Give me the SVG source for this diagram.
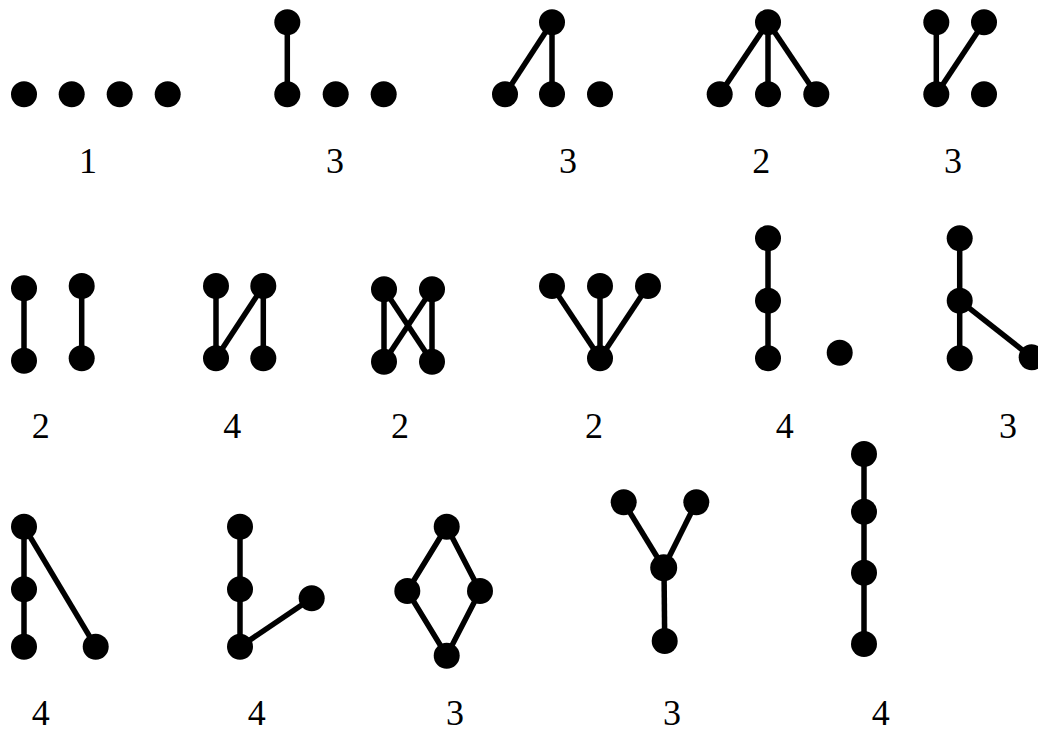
<svg xmlns="http://www.w3.org/2000/svg" width="1038" height="729" viewBox="0 0 1038 729">
<style>
.e{stroke:#000;stroke-width:5.5;fill:none}
.n{fill:#000}
.l{font-family:"Liberation Serif","Times New Roman",serif;font-size:36px;fill:#000;text-anchor:middle}
</style>
<rect width="1038" height="729" fill="#fff"/>
<g id="connectors">
<!-- g2 -->
<line class="e" x1="287.3" y1="22.3" x2="287.3" y2="94.3"/>
<!-- g3 -->
<line class="e" x1="552" y1="22.3" x2="505" y2="94.3"/>
<line class="e" x1="552" y1="22.3" x2="552" y2="94.3"/>
<!-- g4 -->
<line class="e" x1="768" y1="22.3" x2="719.7" y2="94.3"/>
<line class="e" x1="768" y1="22.3" x2="768" y2="94.3"/>
<line class="e" x1="768" y1="22.3" x2="816.3" y2="94.3"/>
<!-- g5 -->
<line class="e" x1="936.3" y1="22.3" x2="936.3" y2="94.3"/>
<line class="e" x1="984" y1="22.3" x2="936.3" y2="94.3"/>
<!-- g6 -->
<line class="e" x1="24" y1="288.3" x2="24" y2="360.7"/>
<line class="e" x1="81.7" y1="286" x2="81.7" y2="358.3"/>
<!-- g7 -->
<line class="e" x1="216" y1="286" x2="216" y2="358.3"/>
<line class="e" x1="263.3" y1="286" x2="216" y2="358.3"/>
<line class="e" x1="263.3" y1="286" x2="263.3" y2="358.3"/>
<!-- g8 -->
<line class="e" x1="384" y1="289.3" x2="384" y2="361.7"/>
<line class="e" x1="384" y1="289.3" x2="432" y2="361.7"/>
<line class="e" x1="432" y1="289.3" x2="384" y2="361.7"/>
<line class="e" x1="432" y1="289.3" x2="432" y2="361.7"/>
<!-- g9 -->
<line class="e" x1="552" y1="286" x2="600" y2="358.3"/>
<line class="e" x1="600" y1="286" x2="600" y2="358.3"/>
<line class="e" x1="648" y1="286" x2="600" y2="358.3"/>
<!-- g10 -->
<line class="e" x1="768" y1="238.3" x2="768" y2="358.3"/>
<!-- g11 -->
<line class="e" x1="959.7" y1="238.3" x2="959.7" y2="358.3"/>
<line class="e" x1="959.7" y1="300.7" x2="1031.7" y2="357.3"/>
<!-- g12 -->
<line class="e" x1="24" y1="526.7" x2="24" y2="646.7"/>
<line class="e" x1="24" y1="526.7" x2="95.7" y2="646.7"/>
<!-- g13 -->
<line class="e" x1="240" y1="526.7" x2="240" y2="646.7"/>
<line class="e" x1="240" y1="646.7" x2="311.7" y2="598.3"/>
<!-- g14 -->
<polygon class="e" points="446.7,526.7 480,591 446.7,655.7 407.3,591"/>
<!-- g15 -->
<line class="e" x1="623.7" y1="502.3" x2="663.7" y2="567.7"/>
<line class="e" x1="696.3" y1="502.3" x2="663.7" y2="567.7"/>
<line class="e" x1="664" y1="567.7" x2="664.7" y2="641"/>
<!-- g16 -->
<line class="e" x1="864" y1="454" x2="864" y2="644"/>
</g>
<g id="g1"><circle class="n" cx="24" cy="94.3" r="13"/><circle class="n" cx="71.7" cy="94.3" r="13"/><circle class="n" cx="119.7" cy="94.3" r="13"/><circle class="n" cx="167.7" cy="94.3" r="13"/><text class="l" x="88" y="173">1</text></g>
<g id="g2"><circle class="n" cx="287.3" cy="22.3" r="13"/><circle class="n" cx="287.3" cy="94.3" r="13"/><circle class="n" cx="335.7" cy="94.3" r="13"/><circle class="n" cx="383.7" cy="94.3" r="13"/><text class="l" x="335" y="173">3</text></g>
<g id="g3"><circle class="n" cx="552" cy="22.3" r="13"/><circle class="n" cx="505" cy="94.3" r="13"/><circle class="n" cx="552" cy="94.3" r="13"/><circle class="n" cx="600" cy="94.3" r="13"/><text class="l" x="568" y="173">3</text></g>
<g id="g4"><circle class="n" cx="768" cy="22.3" r="13"/><circle class="n" cx="719.7" cy="94.3" r="13"/><circle class="n" cx="768" cy="94.3" r="13"/><circle class="n" cx="816.3" cy="94.3" r="13"/><text class="l" x="761.3" y="173">2</text></g>
<g id="g5"><circle class="n" cx="936.3" cy="22.3" r="13"/><circle class="n" cx="984" cy="22.3" r="13"/><circle class="n" cx="936.3" cy="94.3" r="13"/><circle class="n" cx="984" cy="94.3" r="13"/><text class="l" x="953" y="173">3</text></g>
<g id="g6"><circle class="n" cx="24" cy="288.3" r="13"/><circle class="n" cx="24" cy="360.7" r="13"/><circle class="n" cx="81.7" cy="286" r="13"/><circle class="n" cx="81.7" cy="358.3" r="13"/><text class="l" x="40.7" y="438.3">2</text></g>
<g id="g7"><circle class="n" cx="216" cy="286" r="13"/><circle class="n" cx="263.3" cy="286" r="13"/><circle class="n" cx="216" cy="358.3" r="13"/><circle class="n" cx="263.3" cy="358.3" r="13"/><text class="l" x="232.3" y="438.3">4</text></g>
<g id="g8"><circle class="n" cx="384" cy="289.3" r="13"/><circle class="n" cx="432" cy="289.3" r="13"/><circle class="n" cx="384" cy="361.7" r="13"/><circle class="n" cx="432" cy="361.7" r="13"/><text class="l" x="400" y="438.3">2</text></g>
<g id="g9"><circle class="n" cx="552" cy="286" r="13"/><circle class="n" cx="600" cy="286" r="13"/><circle class="n" cx="648" cy="286" r="13"/><circle class="n" cx="600" cy="358.3" r="13"/><text class="l" x="594" y="438.3">2</text></g>
<g id="g10"><circle class="n" cx="768" cy="238.3" r="13"/><circle class="n" cx="768" cy="300.7" r="13"/><circle class="n" cx="768" cy="358.3" r="13"/><circle class="n" cx="839.7" cy="352.7" r="13"/><text class="l" x="784.7" y="438.3">4</text></g>
<g id="g11"><circle class="n" cx="959.7" cy="238.3" r="13"/><circle class="n" cx="959.7" cy="300.7" r="13"/><circle class="n" cx="959.7" cy="358.3" r="13"/><circle class="n" cx="1031.7" cy="357.3" r="13"/><text class="l" x="1008" y="438.3">3</text></g>
<g id="g12"><circle class="n" cx="24" cy="526.7" r="13"/><circle class="n" cx="24" cy="589.3" r="13"/><circle class="n" cx="24" cy="646.7" r="13"/><circle class="n" cx="95.7" cy="646.7" r="13"/><text class="l" x="40.7" y="725">4</text></g>
<g id="g13"><circle class="n" cx="240" cy="526.7" r="13"/><circle class="n" cx="240" cy="589.3" r="13"/><circle class="n" cx="240" cy="646.7" r="13"/><circle class="n" cx="311.7" cy="598.3" r="13"/><text class="l" x="256.7" y="725">4</text></g>
<g id="g14"><circle class="n" cx="446.7" cy="526.7" r="13"/><circle class="n" cx="407.3" cy="591" r="13"/><circle class="n" cx="480" cy="591" r="13"/><circle class="n" cx="446.7" cy="655.7" r="13"/><text class="l" x="455" y="725">3</text></g>
<g id="g15"><circle class="n" cx="623.7" cy="502.3" r="13"/><circle class="n" cx="696.3" cy="502.3" r="13"/><circle class="n" cx="663.7" cy="567.7" r="13.5"/><circle class="n" cx="664.7" cy="641" r="13"/><text class="l" x="672" y="725">3</text></g>
<g id="g16"><circle class="n" cx="864" cy="454" r="13"/><circle class="n" cx="864" cy="511.7" r="13"/><circle class="n" cx="864" cy="572.7" r="13"/><circle class="n" cx="864" cy="644" r="13"/><text class="l" x="880.7" y="725">4</text></g>
</svg>
